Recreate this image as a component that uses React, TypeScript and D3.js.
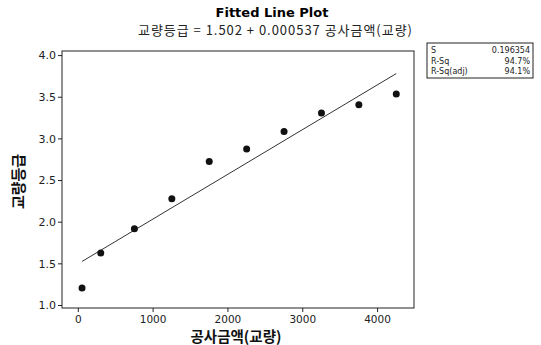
import React from 'react';
import * as d3 from 'd3';

// Observed points
const costs = [50, 300, 750, 1250, 1750, 2250, 2750, 3250, 3750, 4250];
const grades = [1.21, 1.63, 1.92, 2.28, 2.73, 2.88, 3.09, 3.31, 3.41, 3.54];

// Regression output
const intercept = 1.502;
const slope = 0.000537;
const statLabels = ['S', 'R-Sq', 'R-Sq(adj)'];
const statValues = ['0.196354', '94.7%', '94.1%'];

const xTicks = [0, 1000, 2000, 3000, 4000];
const yTicks = [1.0, 1.5, 2.0, 2.5, 3.0, 3.5, 4.0];

export default function App() {
  const width = 541;
  const height = 345;
  const plot = { left: 62, top: 51, right: 414, bottom: 308 };

  const x = d3.scaleLinear().domain([-218, 4487]).range([plot.left, plot.right]);
  const y = d3.scaleLinear().domain([0.97, 4.055]).range([plot.bottom, plot.top]);

  const xExt = d3.extent(costs) as [number, number];
  const fit = d3.line<number>().x(d => x(d)).y(d => y(intercept + slope * d));

  const font = 'Tahoma, "DejaVu Sans", Verdana, sans-serif';
  const kfont = '"Noto Sans CJK KR", "Noto Sans", sans-serif';

  return (
    <svg width={width} height={height} style={{ position: 'absolute', left: 0, top: 0, background: '#fff' }}>
      {/* Titles */}
      <text x={272} y={17} textAnchor="middle" fontFamily={font} fontWeight="bold" fontSize={13}>
        Fitted Line Plot
      </text>
      <text x={138} y={35} fontFamily={kfont} fontSize={13} fill="#222" textLength={274} lengthAdjust="spacing">
        교량등급 = 1.502 + 0.000537 공사금액(교량)
      </text>

      {/* Frame */}
      <rect x={plot.left} y={plot.top} width={plot.right - plot.left} height={plot.bottom - plot.top}
        fill="none" stroke="#222" strokeWidth={1} />

      {/* Y axis */}
      {yTicks.map(t => (
        <g key={`y${t}`}>
          <line x1={plot.left - 4} x2={plot.left} y1={y(t)} y2={y(t)} stroke="#222" />
          <text x={plot.left - 6} y={y(t)} dy="0.35em" textAnchor="end" fontFamily={font} fontSize={11} fill="#222">
            {t.toFixed(1)}
          </text>
        </g>
      ))}

      {/* X axis */}
      {xTicks.map(t => (
        <g key={`x${t}`}>
          <line x1={x(t)} x2={x(t)} y1={plot.bottom} y2={plot.bottom + 4} stroke="#222" />
          <text x={x(t)} y={plot.bottom + 15} textAnchor="middle" fontFamily={font} fontSize={10.5} fill="#222">
            {t}
          </text>
        </g>
      ))}

      {/* Axis titles */}
      <text x={236} y={342} textAnchor="middle" fontFamily={kfont} fontWeight="bold" fontSize={14.5} fill="#111">
        공사금액(교량)
      </text>
      <text transform={`translate(24,${(plot.top + plot.bottom) / 2 + 2}) rotate(-90)`} textAnchor="middle"
        fontFamily={kfont} fontWeight="bold" fontSize={15} fill="#111">
        교량등급
      </text>

      {/* Fitted line */}
      <path d={fit(xExt) ?? ''} fill="none" stroke="#333" strokeWidth={1} />

      {/* Points */}
      {costs.map((c, i) => (
        <circle key={i} cx={x(c)} cy={y(grades[i])} r={3.5} fill="#111" />
      ))}

      {/* Stats box */}
      <rect x={427} y={43} width={106} height={35} fill="none" stroke="#222" strokeWidth={1} />
      {statLabels.map((s, i) => (
        <g key={s}>
          <text x={431} y={53 + i * 10.5} fontFamily={font} fontSize={8} fill="#222">{s}</text>
          <text x={530} y={53 + i * 10.5} textAnchor="end" fontFamily={font} fontSize={8} fill="#222">{statValues[i]}</text>
        </g>
      ))}
    </svg>
  );
}
